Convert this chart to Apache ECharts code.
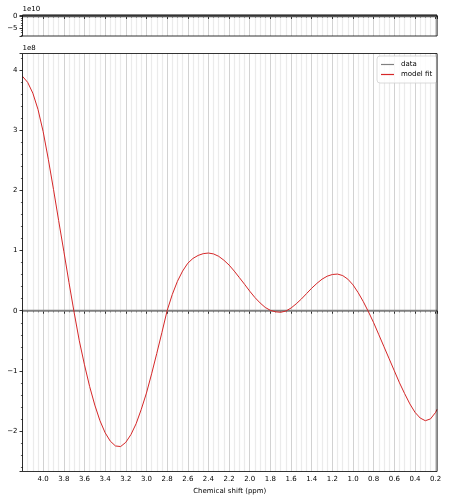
<!DOCTYPE html>
<html><head><meta charset="utf-8">
<script src="https://cdn.jsdelivr.net/npm/echarts@6/dist/echarts.min.js"></script>
<style>html,body{margin:0;padding:0;background:#fff}#c{width:450px;height:500px}</style>
</head><body><div id="c"></div>
<script>
// Chemical shift (ppm) sample positions
const ppm = [4.20,4.15,4.10,4.05,4.00,3.95,3.90,3.85,3.80,3.75,3.70,3.65,3.60,3.55,3.50,3.45,3.40,3.35,3.30,3.25,
  3.20,3.15,3.10,3.05,3.00,2.95,2.90,2.85,2.80,2.75,2.70,2.65,2.60,2.55,2.50,2.45,2.40,2.35,2.30,2.25,
  2.20,2.15,2.10,2.05,2.00,1.95,1.90,1.85,1.80,1.75,1.70,1.65,1.60,1.55,1.50,1.45,1.40,1.35,1.30,1.25,
  1.20,1.15,1.10,1.05,1.00,0.95,0.90,0.85,0.80,0.75,0.70,0.65,0.60,0.55,0.50,0.45,0.40,0.35,0.30,0.25,
  0.20,0.187];
// model fit, in units of 1e8
const modelFit = [3.90,3.80,3.62,3.35,2.98,2.52,2.02,1.50,0.99,0.47,-0.03,-0.50,-0.90,-1.26,-1.57,-1.83,-2.03,-2.17,-2.25,-2.26,
  -2.19,-2.06,-1.88,-1.64,-1.37,-1.05,-0.71,-0.36,0.00,0.27,0.49,0.66,0.79,0.87,0.92,0.95,0.96,0.945,0.905,0.84,
  0.76,0.66,0.55,0.44,0.325,0.22,0.13,0.055,0.006,-0.018,-0.026,-0.005,0.045,0.115,0.195,0.285,0.375,0.455,0.525,0.575,
  0.603,0.61,0.585,0.525,0.43,0.30,0.15,-0.02,-0.20,-0.40,-0.60,-0.80,-1.00,-1.20,-1.38,-1.55,-1.69,-1.785,-1.83,-1.80,
  -1.69,-1.64];
// data (flat), in units of 1e8
const dataPpm = [4.20, 0.187];
const dataValues = [0, 0];
// residual (top panel), in units of 1e10
const residualPpm = [4.20, 0.187];
const residualValues = [0, 0];
const mainScale = '1e8';
const topScale = '1e10';
const legendNames = ['data', 'model fit'];

const zip = (xs, ys) => xs.map((x, i) => [x, ys[i]]);
const FONT = 'DejaVu Sans';
const minus = v => String(v).replace('-', '\u2212');

function xAxis(gridIndex, showLabels) {
  return {
    type: 'value', gridIndex, inverse: true, min: 0.187, max: 4.2, splitNumber: 20,
    axisLine: { show: false },
    axisTick: { show: true, length: 3, lineStyle: { color: '#000', width: 0.8 } },
    minorTick: { show: true, splitNumber: 4, length: 1.6, lineStyle: { color: '#000', width: 0.6 } },
    splitLine: { show: true, lineStyle: { color: '#d2d2d2', width: 1 } },
    minorSplitLine: { show: true, lineStyle: { color: '#ebebeb', width: 1.2 } },
    axisLabel: { show: showLabels, fontSize: 7, fontFamily: FONT, color: '#000', margin: 4,
      showMinLabel: false, showMaxLabel: false, formatter: v => v.toFixed(1) },
    name: showLabels ? 'Chemical shift (ppm)' : '', nameLocation: 'middle', nameGap: 13,
    nameTextStyle: { fontSize: 7, fontFamily: FONT, color: '#000' }
  };
}
function yAxis(gridIndex, min, max, split, scale) {
  return {
    type: 'value', gridIndex, min, max, splitNumber: split,
    axisLine: { show: false },
    axisTick: { show: true, length: 3, lineStyle: { color: '#000', width: 0.8 } },
    minorTick: { show: true, splitNumber: 5, length: 1.6, lineStyle: { color: '#000', width: 0.6 } },
    splitLine: { show: false },
    axisLabel: { fontSize: 7, fontFamily: FONT, color: '#000', margin: 5,
      showMinLabel: false, showMaxLabel: false, formatter: minus },
    name: scale, nameLocation: 'end', nameGap: 2,
    nameTextStyle: { fontSize: 7, fontFamily: FONT, color: '#000', align: 'left', verticalAlign: 'bottom', padding: [0, 0, 0, 0] }
  };
}

const chart = echarts.init(document.getElementById('c'), null, { renderer: 'canvas' });
chart.setOption({
  animation: false,
  backgroundColor: '#fff',
  grid: [
    { left: 22.5, right: 13, top: 15, height: 21, show: true, borderColor: '#000', borderWidth: 0.8, backgroundColor: 'transparent', z: 5 },
    { left: 22.5, right: 13, top: 53.5, bottom: 28.5, show: true, borderColor: '#000', borderWidth: 0.8, backgroundColor: 'transparent', z: 5 }
  ],
  xAxis: [xAxis(0, false), xAxis(1, true)],
  yAxis: [yAxis(0, -8.4, 0.4, 2, topScale), yAxis(1, -2.675, 4.28, 6, mainScale)],
  legend: {
    data: legendNames, orient: 'vertical', left: 377, top: 56,
    icon: 'rect', itemWidth: 13, itemHeight: 1.2, itemGap: 1,
    padding: [4, 5, 4, 4], borderColor: '#d0d0d0', borderWidth: 0.8, borderRadius: 3,
    backgroundColor: 'rgba(255,255,255,0.85)',
    textStyle: { fontSize: 7, fontFamily: FONT, color: '#000', lineHeight: 9, padding: [0, 0, 0, 2] }
  },
  series: [
    { name: 'residual', type: 'line', xAxisIndex: 0, yAxisIndex: 0, data: zip(residualPpm, residualValues),
      symbol: 'none', lineStyle: { color: '#555', width: 2.5 }, itemStyle: { color: '#555' }, z: 3 },
    { name: 'data', type: 'line', xAxisIndex: 1, yAxisIndex: 1, data: zip(dataPpm, dataValues),
      symbol: 'none', lineStyle: { color: '#808080', width: 2 }, itemStyle: { color: '#808080' }, z: 3 },
    { name: 'model fit', type: 'line', xAxisIndex: 1, yAxisIndex: 1, data: zip(ppm, modelFit),
      symbol: 'none', smooth: false, lineStyle: { color: '#d62728', width: 1 }, itemStyle: { color: '#d62728' }, z: 4 }
  ]
});
</script></body></html>
